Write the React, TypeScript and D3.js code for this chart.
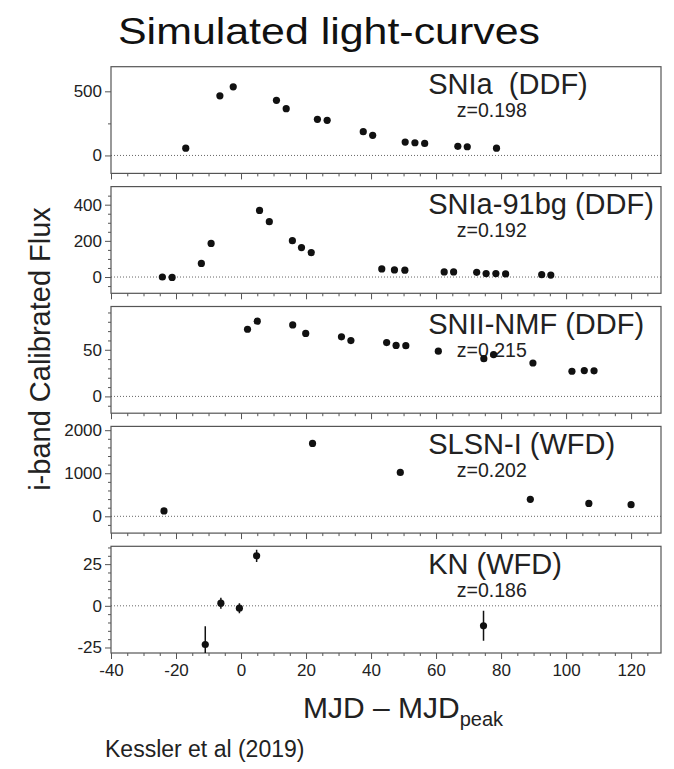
import React, { useEffect, useRef } from 'react';
import * as d3 from 'd3';

// ---- data ----
const xTickValues = [-40, -20, 0, 20, 40, 60, 80, 100, 120];

const snIaX = [-17, -6.5, -2.4, 10.9, 13.9, 23.5, 26.5, 37.6, 40.5, 50.5, 53.5, 56.5, 66.7, 69.6, 78.6];
const snIaY = [57, 465, 535, 430, 365, 282, 274, 185, 157, 104, 99, 94, 71, 68, 57];

const sn91bgX = [-24.2, -21.2, -12.2, -9.2, 5.7, 8.7, 15.8, 18.6, 21.6, 43.3, 47.2, 50.4, 62.5, 65.4, 72.5, 75.4, 78.4, 81.4, 92.5, 95.3];
const sn91bgY = [0, -2, 75, 186, 368, 306, 201, 163, 135, 45, 39, 38, 28, 28, 26, 19, 19, 17, 13, 11];

const sniiX = [2, 5, 15.9, 19.9, 30.9, 33.8, 44.8, 47.7, 50.7, 60.7, 74.7, 77.7, 89.8, 101.8, 105.6, 108.6];
const sniiY = [72, 80.7, 76.6, 67.5, 63.9, 59.9, 57.7, 54.7, 54.4, 48.5, 40.5, 44.9, 35.8, 27, 27.7, 27.4];

const slsnX = [-23.7, 22, 49, 89, 107, 120];
const slsnY = [126, 1692, 1020, 395, 300, 269];

const knX = [-11, -6.2, -0.5, 4.8, 74.6];
const knY = [-23.2, 1.6, -1.4, 30, -12];
const knErr = [11, 3.3, 3, 3.7, 9];

const panelNames = ['SNIa  (DDF)', 'SNIa-91bg (DDF)', 'SNII-NMF (DDF)', 'SLSN-I (WFD)', 'KN (WFD)'];
const redshifts = ['z=0.198', 'z=0.192', 'z=0.215', 'z=0.202', 'z=0.186'];
const yMajorTicks = [[0, 500], [0, 200, 400], [0, 50], [0, 1000, 2000], [-25, 0, 25]];
const yMinorSteps = [250, 50, 10, 200, 5];
const yDomains: [number, number][] = [[-140, 692], [-90, 500], [-18, 96.4], [-390, 2088], [-28.3, 35.7]];

const panelXs = [snIaX, sn91bgX, sniiX, slsnX, knX];
const panelYs = [snIaY, sn91bgY, sniiY, slsnY, knY];
const panelErrs: (number[] | null)[] = [null, null, null, null, knErr];

const FONT = '"Liberation Sans", Arial, Helvetica, sans-serif';
const fmt = (d: d3.NumberValue) => String(d);

export default function App() {
  const ref = useRef<SVGSVGElement>(null);

  useEffect(() => {
    const svg = d3.select(ref.current);
    svg.selectAll('*').remove();

    const left = 111, right = 661, top0 = 66.7, h = 106.7, gap = 13.2;
    const frameColor = '#555';
    const x = d3.scaleLinear().domain([-40, 129.2]).range([left, right]);
    const xMinor = d3.range(-40, 130, 5).filter(v => v % 20 !== 0);

    panelNames.forEach((name, i) => {
      const top = top0 + i * (h + gap);
      const y = d3.scaleLinear().domain(yDomains[i]).range([top + h, top]);
      const g = svg.append('g');

      const clipId = `clip${i}`;
      g.append('clipPath').attr('id', clipId)
        .append('rect').attr('x', left).attr('y', top).attr('width', right - left).attr('height', h);

      // zero line
      g.append('line')
        .attr('x1', left).attr('x2', right)
        .attr('y1', y(0)).attr('y2', y(0))
        .attr('stroke', '#666').attr('stroke-width', 1).attr('stroke-dasharray', '1,2');

      // labels
      g.append('text')
        .attr('x', x(57.6)).attr('y', top + 27.5)
        .attr('font-size', 29).attr('font-family', FONT).attr('fill', '#222')
        .style('white-space', 'pre')
        .text(name);
      g.append('text')
        .attr('x', x(66.4)).attr('y', top + 50.5)
        .attr('font-size', 19.5).attr('font-family', FONT).attr('fill', '#222')
        .text(redshifts[i]);

      // y axis
      const [d0, d1] = yDomains[i];
      const step = yMinorSteps[i];
      const yMinor = d3.range(Math.ceil(d0 / step) * step, d1, step).filter(v => !yMajorTicks[i].includes(v));
      const yAx = g.append('g').attr('transform', `translate(${left},0)`)
        .call(d3.axisLeft(y).tickValues(yMajorTicks[i]).tickSize(6).tickPadding(3).tickFormat(fmt));
      const yAxm = g.append('g').attr('transform', `translate(${left},0)`)
        .call(d3.axisLeft(y).tickValues(yMinor).tickSize(3).tickFormat(() => ''));

      // x axis
      const xAx = g.append('g').attr('transform', `translate(0,${top + h})`)
        .call(d3.axisBottom(x).tickValues(xTickValues).tickSize(6).tickPadding(5)
          .tickFormat(i === 4 ? fmt : () => ''));
      const xAxm = g.append('g').attr('transform', `translate(0,${top + h})`)
        .call(d3.axisBottom(x).tickValues(xMinor).tickSize(3).tickFormat(() => ''));

      [yAx, yAxm, xAx, xAxm].forEach(a => {
        a.select('.domain').remove();
        a.selectAll('line').attr('stroke', frameColor);
        a.selectAll('text').attr('font-size', 17).attr('font-family', FONT).attr('fill', '#222');
      });

      // frame
      g.append('rect')
        .attr('x', left).attr('y', top).attr('width', right - left).attr('height', h)
        .attr('fill', 'none').attr('stroke', frameColor).attr('stroke-width', 1.2);

      // data
      const xs = panelXs[i], ys = panelYs[i], errs = panelErrs[i];
      const data = xs.map((v, k) => ({ x: v, y: ys[k], e: errs ? errs[k] : 0 }));
      const dg = g.append('g').attr('clip-path', `url(#${clipId})`);
      if (errs) {
        dg.selectAll('line.err').data(data).enter().append('line')
          .attr('x1', d => x(d.x)).attr('x2', d => x(d.x))
          .attr('y1', d => y(d.y - d.e)).attr('y2', d => y(d.y + d.e))
          .attr('stroke', '#111').attr('stroke-width', 1.5);
      }
      dg.selectAll('circle').data(data).enter().append('circle')
        .attr('cx', d => x(d.x)).attr('cy', d => y(d.y)).attr('r', 3.6)
        .attr('fill', '#111');
    });

    // title
    svg.append('text')
      .attr('x', 118).attr('y', 44)
      .attr('font-size', 37).attr('font-family', FONT).attr('fill', '#111')
      .attr('textLength', 422).attr('lengthAdjust', 'spacingAndGlyphs')
      .text('Simulated light-curves');

    // y label
    svg.append('text')
      .attr('transform', 'translate(50,349) rotate(-90)')
      .attr('text-anchor', 'middle')
      .attr('font-size', 29).attr('font-family', FONT).attr('fill', '#222')
      .text('i-band Calibrated Flux');

    // x label
    const xl = svg.append('text')
      .attr('x', 403).attr('y', 718)
      .attr('text-anchor', 'middle')
      .attr('font-size', 30).attr('font-family', FONT).attr('fill', '#222');
    xl.append('tspan').text('MJD \u2013 MJD');
    xl.append('tspan').attr('font-size', 20).attr('dy', 8).text('peak');

    // citation
    svg.append('text')
      .attr('x', 105).attr('y', 757)
      .attr('font-size', 23).attr('font-family', FONT).attr('fill', '#222')
      .text('Kessler et al (2019)');
  }, []);

  return (
    <svg ref={ref} width={674} height={769}
      style={{ position: 'absolute', left: 0, top: 0, background: '#fff' }} />
  );
}
